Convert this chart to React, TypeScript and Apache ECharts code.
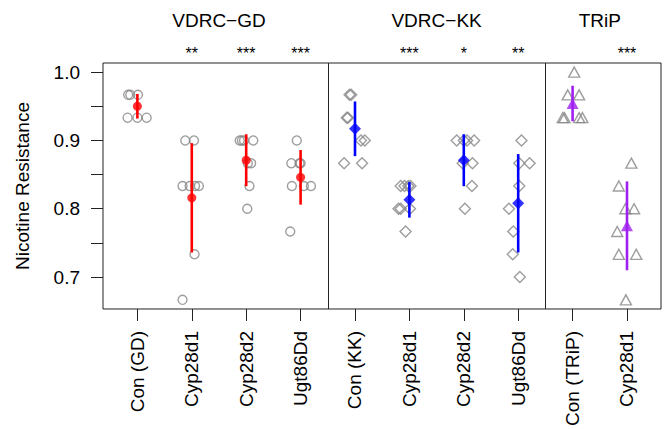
import React, { useEffect, useRef } from 'react';
import * as echarts from 'echarts';

const categories = ['Con (GD)', 'Cyp28d1', 'Cyp28d2', 'Ugt86Dd', 'Con (KK)', 'Cyp28d1', 'Cyp28d2', 'Ugt86Dd', 'Con (TRiP)', 'Cyp28d1'];
const categoryGroup = [0, 0, 0, 0, 1, 1, 1, 1, 2, 2];
const groupNames = ['VDRC\u2212GD', 'VDRC\u2212KK', 'TRiP'];
const groupColors = ['#ff0000', '#0000ff', '#a020f0'];
const groupSymbols = ['circle', 'diamond', 'triangle'];
const significance = ['', '**', '***', '***', '', '***', '*', '**', '', '***'];

const means = [0.95, 0.816, 0.871, 0.846, 0.917, 0.813, 0.871, 0.808, 0.954, 0.775];
const sds = [0.018, 0.080, 0.038, 0.040, 0.040, 0.026, 0.038, 0.072, 0.026, 0.065];

const pointValues = [
  [0.9667, 0.9667, 0.9667, 0.9333, 0.9333, 0.9333],
  [0.9, 0.9, 0.8333, 0.8333, 0.8333, 0.8333, 0.7333, 0.6667],
  [0.9, 0.9, 0.9, 0.9, 0.8667, 0.8667, 0.8333, 0.8],
  [0.9, 0.8667, 0.8667, 0.8667, 0.8333, 0.8333, 0.8333, 0.7667],
  [0.9667, 0.9667, 0.9333, 0.9333, 0.9, 0.9, 0.8667, 0.8667],
  [0.8333, 0.8333, 0.8333, 0.8333, 0.8, 0.8, 0.8, 0.7667],
  [0.9, 0.9, 0.9, 0.9, 0.8667, 0.8667, 0.8333, 0.8],
  [0.9, 0.8667, 0.8667, 0.8333, 0.8, 0.7667, 0.7333, 0.7],
  [1.0, 0.9667, 0.9667, 0.9333, 0.9333, 0.9333, 0.9333],
  [0.8667, 0.8333, 0.8, 0.8, 0.7667, 0.7333, 0.7333, 0.6667],
];
const pointJitter = [
  [-0.17, -0.13, 0.01, -0.18, 0.0, 0.17],
  [-0.12, 0.04, -0.17, -0.04, 0.06, 0.13, 0.05, -0.17],
  [-0.12, -0.08, -0.04, 0.13, 0.03, 0.09, 0.06, 0.02],
  [-0.07, -0.17, -0.02, 0.0, -0.16, 0.06, 0.19, -0.19],
  [-0.1, -0.07, -0.15, -0.13, 0.11, 0.18, -0.2, 0.13],
  [-0.16, -0.09, -0.02, 0.02, -0.2, -0.16, 0.01, -0.07],
  [-0.13, 0.0, 0.06, 0.19, -0.02, 0.16, 0.15, 0.02],
  [0.06, 0.02, 0.21, 0.02, -0.17, -0.09, -0.1, 0.03],
  [0.03, -0.09, 0.12, -0.18, -0.15, 0.12, 0.18],
  [0.08, -0.15, -0.03, 0.13, -0.18, -0.15, 0.17, -0.02],
];

const yTickValues = [0.7, 0.75, 0.8, 0.85, 0.9, 0.95, 1.0];
const yLabelValues = [0.7, 0.8, 0.9, 1.0];

const FONT = 'Liberation Sans, Arial, Helvetica, sans-serif';

export default function App() {
  const ref = useRef<HTMLDivElement>(null);
  useEffect(() => {
    document.body.style.margin = '0';
    if (!ref.current) return;
    const chart = echarts.init(ref.current, null, { renderer: 'svg' });

    const catPos = categories.map((_, i) => i + 1);
    const groupRanges = groupNames.map((_, g) => {
      const idx = catPos.filter((_, i) => categoryGroup[i] === g);
      return [Math.min(...idx), Math.max(...idx)];
    });
    const dividers = groupRanges.slice(0, -1).map((r) => r[1] + 0.5);

    const rawSeries = groupNames.map((_, g) => {
      const data: number[][] = [];
      categories.forEach((_, i) => {
        if (categoryGroup[i] !== g) return;
        pointValues[i].forEach((v, k) => data.push([catPos[i] + pointJitter[i][k], v]));
      });
      const size = g === 0 ? 9 : g === 1 ? 11 : [11, 10];
      return {
        type: 'scatter',
        data,
        symbol: groupSymbols[g],
        symbolSize: size,
        itemStyle: { color: 'rgba(255,255,255,0)', borderColor: '#868686', borderWidth: 1.4 },
        silent: true,
        z: 2,
      };
    });

    const errSeries = {
      type: 'custom',
      data: categories.map((_, i) => [catPos[i], means[i] - sds[i], means[i] + sds[i]]),
      renderItem: (params: any, api: any) => {
        const x = api.value(0);
        const p1 = api.coord([x, api.value(1)]);
        const p2 = api.coord([x, api.value(2)]);
        return {
          type: 'line',
          shape: { x1: p1[0], y1: p1[1], x2: p2[0], y2: p2[1] },
          style: { stroke: groupColors[categoryGroup[params.dataIndex]], lineWidth: 2.6 },
        };
      },
      z: 3,
      silent: true,
    };

    const meanSeries = groupNames.map((_, g) => ({
      type: 'scatter',
      data: categories
        .map((_, i) => (categoryGroup[i] === g ? [catPos[i], means[i]] : null))
        .filter((d) => d !== null),
      symbol: groupSymbols[g],
      symbolSize: g === 0 ? 9 : g === 1 ? 12 : [12, 11],
      itemStyle: { color: groupColors[g] },
      silent: true,
      z: 4,
    }));

    const annotTexts: string[] = [];
    const annotSizes: number[] = [];
    const annotData: number[][] = [];
    groupNames.forEach((name, g) => {
      annotData.push([(groupRanges[g][0] + groupRanges[g][1]) / 2, 1.076]);
      annotTexts.push(name);
      annotSizes.push(19);
    });
    significance.forEach((s, i) => {
      if (!s) return;
      annotData.push([catPos[i], 1.027]);
      annotTexts.push(s);
      annotSizes.push(16);
    });

    const annotSeries = {
      type: 'custom',
      data: annotData,
      clip: false,
      silent: true,
      renderItem: (params: any, api: any) => {
        const p = api.coord([api.value(0), api.value(1)]);
        return {
          type: 'text',
          x: p[0],
          y: p[1],
          style: {
            text: annotTexts[params.dataIndex],
            fontSize: annotSizes[params.dataIndex],
            fontFamily: FONT,
            fill: '#000',
            align: 'center',
            verticalAlign: 'middle',
          },
        };
      },
      markLine: {
        silent: true,
        symbol: 'none',
        label: { show: false },
        lineStyle: { color: '#222', width: 1, type: 'solid' },
        data: dividers.map((d) => ({ xAxis: d })),
      },
      z: 5,
    };

    chart.setOption({
      animation: false,
      backgroundColor: '#fff',
      grid: {
        left: 103,
        top: 63,
        width: 558,
        height: 254,
        show: true,
        borderColor: '#222',
        borderWidth: 1,
        backgroundColor: 'transparent',
      },
      xAxis: {
        type: 'value',
        min: 0.368,
        max: 10.625,
        axisLine: { show: false },
        splitLine: { show: false },
        axisTick: { show: true, customValues: catPos, length: 12, lineStyle: { color: '#222', width: 1 } },
        axisLabel: {
          show: true,
          customValues: catPos,
          rotate: 90,
          margin: 22,
          fontSize: 19,
          color: '#000',
          fontFamily: FONT,
          formatter: (v: number) => categories[Math.round(v) - 1] ?? '',
        },
      },
      yAxis: {
        type: 'value',
        min: 0.6533,
        max: 1.0133,
        name: 'Nicotine Resistance',
        nameLocation: 'middle',
        nameRotate: 90,
        nameGap: 71,
        nameTextStyle: { fontSize: 19, color: '#000', fontFamily: FONT },
        axisLine: { show: false },
        splitLine: { show: false },
        axisTick: { show: true, customValues: yTickValues, length: 12, lineStyle: { color: '#222', width: 1 } },
        axisLabel: {
          show: true,
          customValues: yLabelValues,
          margin: 23,
          fontSize: 19,
          color: '#000',
          fontFamily: FONT,
          formatter: (v: number) => v.toFixed(1),
        },
      },
      series: [...rawSeries, errSeries, ...meanSeries, annotSeries],
    });

    return () => chart.dispose();
  }, []);

  return <div ref={ref} style={{ width: 664, height: 429 }} />;
}
